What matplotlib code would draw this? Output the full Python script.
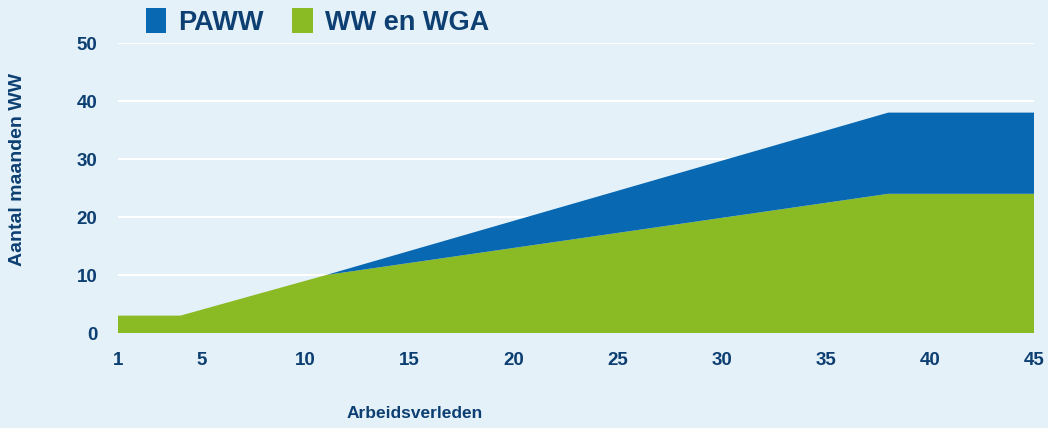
import matplotlib
matplotlib.use("Agg")
import matplotlib.pyplot as plt
from matplotlib.patches import Patch

# Data
jaren = [1, 4, 11, 38, 45]
ww_wga = [3, 3, 10, 24, 24]
paww = [0, 0, 0, 14, 14]
x_ticks = [1, 5, 10, 15, 20, 25, 30, 35, 40, 45]
y_ticks = [0, 10, 20, 30, 40, 50]

BG = "#e4f1f8"
BLUE = "#0868b2"
GREEN = "#8aba24"
TXT = "#0d3f72"

plt.rcParams['font.family'] = ['Liberation Sans', 'DejaVu Sans']

fig = plt.figure(figsize=(10.48, 4.28), dpi=100, facecolor=BG)
ax = fig.add_axes([118/1048, (428-333)/428, (1034-118)/1048, (333-43)/428])
ax.set_facecolor(BG)

ax.stackplot(jaren, ww_wga, paww, colors=[GREEN, BLUE], linewidth=0)

ax.set_xlim(1, 45)
ax.set_ylim(0, 50)
ax.set_xticks(x_ticks)
ax.set_yticks(y_ticks)
ax.set_axisbelow(True)
ax.grid(axis='y', color='white', linewidth=1.5)
ax.grid(axis='x', visible=False)
for s in ax.spines.values():
    s.set_visible(False)
ax.tick_params(length=0, colors=TXT, labelsize=13.5)
ax.tick_params(axis='x', pad=14)
ax.tick_params(axis='y', pad=15)
for lab in ax.get_xticklabels() + ax.get_yticklabels():
    lab.set_fontweight('bold')
    lab.set_color(TXT)

fig.text(18/1048, 1-170/428, "Aantal maanden WW", rotation=90, ha='center', va='center',
         color=TXT, fontsize=14, fontweight='bold')
fig.text(415/1048, 1-413/428, "Arbeidsverleden", ha='center', va='center',
         color=TXT, fontsize=12.5, fontweight='bold')

handles = [Patch(facecolor=BLUE, edgecolor='none', label='PAWW'),
           Patch(facecolor=GREEN, edgecolor='none', label='WW en WGA')]
leg = fig.legend(handles=handles, loc='center left', bbox_to_anchor=(146/1048, 1-22/428),
                 ncol=2, frameon=False, handlelength=0.75, handleheight=1.0,
                 handletextpad=0.45, columnspacing=1.05, borderaxespad=0, borderpad=0,
                 prop=dict(size=19.5, weight='bold'))
for t in leg.get_texts():
    t.set_color(TXT)

fig.savefig("out.png", dpi=100, facecolor=BG)
